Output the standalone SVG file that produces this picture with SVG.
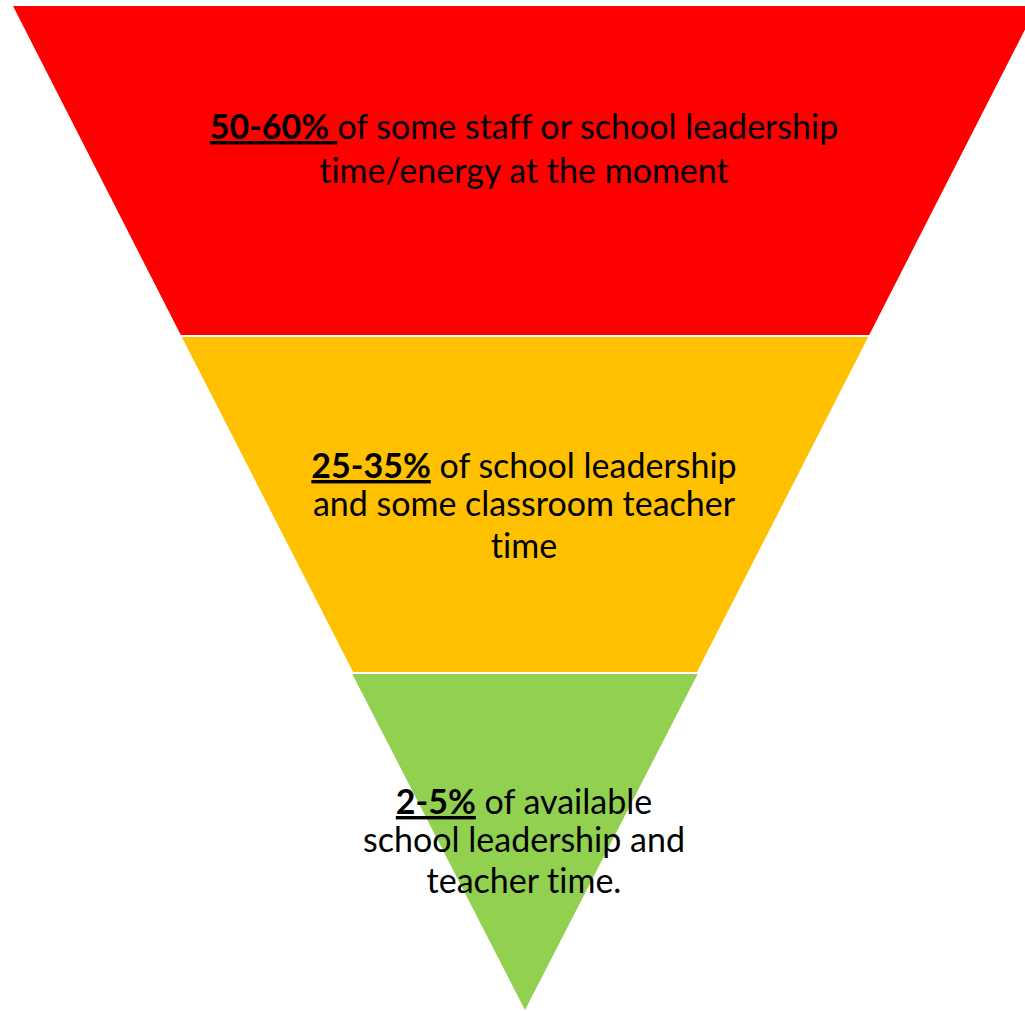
<svg xmlns="http://www.w3.org/2000/svg" width="1025" height="1011" viewBox="0 0 1025 1011">
<style>
.lbl{font-family:Lato,"Open Sans","Liberation Sans",sans-serif;fill:#000;text-anchor:middle;font-variant-ligatures:none;font-feature-settings:"liga" 0;font-size:34px}
.b{font-weight:bold;text-decoration:underline}
</style>
<rect width="1025" height="1011" fill="#fff"/>
<g id="tier-top">
<polygon points="13,6 1037,6 869.2,335 180.8,335" fill="#FF0000"/>
<text class="lbl" x="524" y="139"><tspan class="b">50-60% </tspan>of some staff or school leadership</text>
<text class="lbl" x="524" y="183">time/energy at the moment</text>
</g>
<g id="tier-middle">
<polygon points="181.8,337 868.2,337 696.9,672 353.1,672" fill="#FFC000"/>
<text class="lbl" x="524" y="478"><tspan class="b">25-35%</tspan> of school leadership</text>
<text class="lbl" x="524" y="516">and some classroom teacher</text>
<text class="lbl" x="524" y="558">time</text>
</g>
<g id="tier-bottom">
<polygon points="352.3,674 697.7,674 525,1010" fill="#92D050"/>
<text class="lbl" x="524" y="814"><tspan class="b">2-5%</tspan> of available</text>
<text class="lbl" x="524" y="852">school leadership and</text>
<text class="lbl" x="524" y="893">teacher time.</text>
</g>
<g id="connectors"/>
</svg>
